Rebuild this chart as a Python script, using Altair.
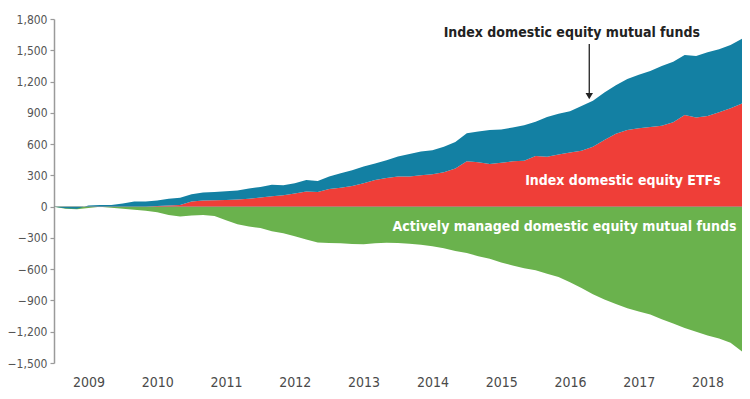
import altair as alt
import pandas as pd

# time grid (fractional years, two-month steps)
t_values = [2009 + k / 6 for k in range(61)]

# cumulative flows (billions $)
index_total = [0, -15, -20, 10, 15, 15, 30, 50, 50, 60, 75, 85, 120, 135, 140, 148,
               155, 175, 188, 210, 205, 225, 255, 245, 290, 320, 350, 385, 415, 445,
               480, 505, 530, 540, 575, 620, 705, 720, 735, 740, 760, 780, 815, 860,
               890, 915, 965, 1015, 1095, 1165, 1225, 1265, 1300, 1350, 1390, 1455,
               1445, 1480, 1510, 1550, 1610]
etfs = [0, 0, 0, 0, 0, 0, 0, 0, 0, 5, 10, 15, 50, 58, 62, 64, 68, 75, 88, 100, 110,
        125, 145, 140, 168, 180, 198, 225, 255, 275, 290, 290, 300, 310, 330, 365,
        435, 425, 410, 420, 435, 440, 485, 478, 500, 520, 535, 575, 640, 700, 735,
        752, 765, 775, 810, 880, 855, 870, 905, 945, 990]
active = [0, -20, -25, -12, -2, -10, -20, -30, -40, -55, -80, -95, -85, -80, -90,
          -130, -170, -190, -205, -235, -255, -285, -315, -345, -348, -352, -358,
          -362, -352, -346, -348, -355, -365, -380, -400, -425, -445, -475, -500,
          -535, -565, -590, -611, -645, -675, -725, -780, -840, -890, -935, -975,
          -1005, -1035, -1080, -1120, -1165, -1200, -1235, -1265, -1305, -1390]

year_labels = [2009, 2010, 2011, 2012, 2013, 2014, 2015, 2016, 2017, 2018]
y_ticks = [-1500, -1200, -900, -600, -300, 0, 300, 600, 900, 1200, 1500, 1800]

label_texts = ["Index domestic equity mutual funds", "Index domestic equity ETFs",
               "Actively managed domestic equity mutual funds"]
label_x = [2018.39, 2018.69, 2018.92]
label_y = [1668, 250, -195]

arrow_x = [2016.78]
arrow_top = [1560]
arrow_bottom = [1060]

df = pd.DataFrame({"t": t_values, "total": index_total, "etf": etfs, "active": active})
df["zero"] = 0

FONT = "DejaVu Sans Condensed, Roboto Condensed, Liberation Sans Narrow, Roboto, sans-serif"
BLUE = "#1380a3"
RED = "#ef3e38"
GREEN = "#6ab24d"

xscale = alt.Scale(domain=[2009, 2019], nice=False, zero=False)
yscale = alt.Scale(domain=[-1500, 1800], nice=False)

x_axis = alt.Axis(values=[y + 0.5 for y in year_labels],
                  labelExpr="floor(datum.value)", title=None,
                  domain=False, ticks=False, grid=False,
                  labelFontSize=14, labelColor="#4a4a4a",
                  labelFont=FONT, labelPadding=12)
y_axis = alt.Axis(values=y_ticks, labelExpr="format(datum.value, ',')", title=None,
                  grid=False, labelOverlap=False,
                  domainColor="#9a9a9a", domainWidth=1.5, tickColor="#9a9a9a",
                  tickSize=4, tickWidth=1.2, labelFontSize=12, labelColor="#555555",
                  labelFont=FONT, labelPadding=3)

base = alt.Chart(df)
green = base.mark_area(color=GREEN).encode(
    x=alt.X("t:Q", scale=xscale, axis=x_axis),
    y=alt.Y("active:Q", scale=yscale, axis=y_axis), y2="zero:Q")
red = base.mark_area(color=RED).encode(
    x=alt.X("t:Q", axis=x_axis), y=alt.Y("etf:Q", axis=y_axis), y2="zero:Q")
blue = base.mark_area(color=BLUE).encode(
    x=alt.X("t:Q", axis=x_axis), y=alt.Y("total:Q", axis=y_axis), y2="etf:Q")
zero_line = base.mark_rule(color="#8a8a8a", strokeWidth=0.8, opacity=0.6).encode(
    x=alt.X("min(t):Q", axis=x_axis), x2="max(t):Q",
    y=alt.Y("zero:Q", aggregate="min", axis=y_axis))

ann = pd.DataFrame({"text": label_texts, "x": label_x, "y": label_y,
                    "color": ["#222222", "white", "white"]})
texts = alt.Chart(ann).mark_text(font=FONT, fontSize=14, fontWeight="bold",
                                 align="right", baseline="middle").encode(
    x=alt.X("x:Q", axis=x_axis), y=alt.Y("y:Q", axis=y_axis), text="text:N",
    color=alt.Color("color:N", scale=None))

arr = pd.DataFrame({"x": arrow_x, "y": arrow_top, "y2": arrow_bottom})
arrow_line = alt.Chart(arr).mark_rule(color="#222222", strokeWidth=1.3).encode(
    x=alt.X("x:Q", axis=x_axis), y=alt.Y("y:Q", axis=y_axis), y2="y2:Q")
arrow_head = alt.Chart(arr).mark_point(shape="triangle-down", filled=True,
                                       color="#222222", size=55, opacity=1).encode(
    x=alt.X("x:Q", axis=x_axis), y=alt.Y("y2:Q", axis=y_axis))

chart = alt.layer(green, red, blue, zero_line, texts, arrow_line, arrow_head).properties(
    width=688, height=344,
    background="white",
    autosize=alt.AutoSizeParams(type="none"),
    padding={"left": 46, "top": 11, "right": 0, "bottom": 28},
).configure_view(strokeWidth=0, stroke="transparent")

chart.save("out.html", embed_options={"renderer": "svg", "actions": False})
